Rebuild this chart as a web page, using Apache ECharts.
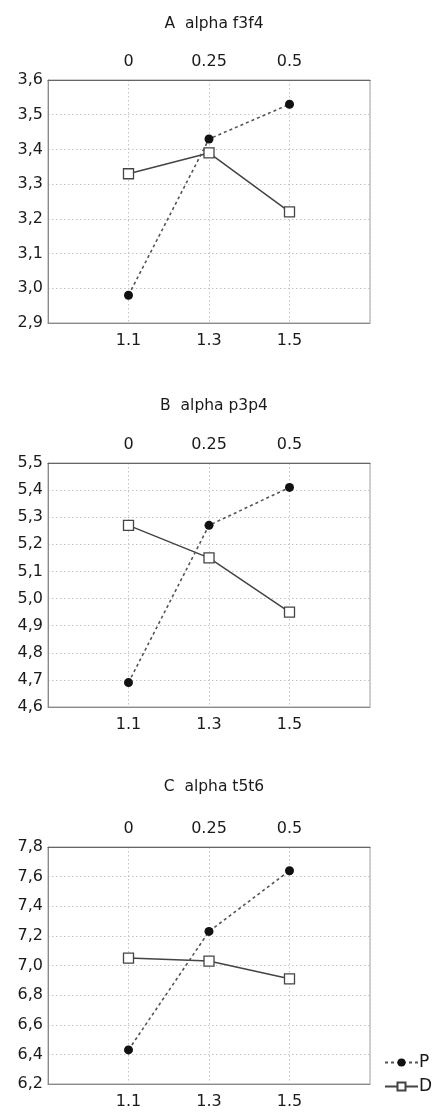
<!DOCTYPE html>
<html>
<head>
<meta charset="utf-8">
<script src="https://cdn.jsdelivr.net/npm/echarts@6/dist/echarts.min.js"></script>
<style>
html,body{margin:0;padding:0;background:#fff;}
#chart{width:436px;height:1120px;}
</style>
</head>
<body>
<div id="chart"></div>
<script>
// ---- data ----
const xValues = [1.1, 1.3, 1.5];
const topTicks = [0, 0.25, 0.5];
const titles = ['A  alpha f3f4', 'B  alpha p3p4', 'C  alpha t5t6'];
const seriesNames = ['P', 'D'];
const pA = [2.98, 3.43, 3.53];
const dA = [3.33, 3.39, 3.22];
const pB = [4.69, 5.27, 5.41];
const dB = [5.27, 5.15, 4.95];
const pC = [6.43, 7.23, 7.64];
const dC = [7.05, 7.03, 6.91];
const yMins = [2.9, 4.6, 6.2];
const yMaxs = [3.6, 5.5, 7.8];
const yIntervals = [0.1, 0.1, 0.2];

const panels = [[pA, dA], [pB, dB], [pC, dC]];

// ---- layout ----
const gridTops = [80, 463, 847];
const gridHeights = [243, 244, 237];
const titleTops = [11, 393, 774];
const FONT = 'DejaVu Sans';
const TXT = '#1a1a1a';

const chart = echarts.init(document.getElementById('chart'), null, {renderer: 'canvas'});

const grid = [], xAxis = [], yAxis = [], series = [], title = [];
panels.forEach((pd, i) => {
  title.push({
    text: titles[i], left: 209, top: titleTops[i], textAlign: 'center',
    textStyle: {fontFamily: FONT, fontSize: 15.5, fontWeight: 'normal', color: TXT}
  });
  grid.push({left: 48, right: 66, top: gridTops[i], height: gridHeights[i],
    show: true, borderColor: '#a0a0a0', borderWidth: 1, backgroundColor: 'transparent'});
  // bottom axis
  xAxis.push({
    type: 'value', gridIndex: i, position: 'bottom',
    min: 0.9, max: 1.7, interval: 0.2,
    axisLine: {show: true, onZero: false, lineStyle: {color: '#8a8a8a', width: 1}},
    axisTick: {show: false},
    axisLabel: {
      margin: 10, fontFamily: FONT, fontSize: 16, color: TXT,
      formatter: v => {
        const m = xValues.find(x => Math.abs(x - v) < 1e-6);
        return m === undefined ? '' : m.toFixed(1);
      }
    },
    splitLine: {show: true, lineStyle: {type: [1.5, 2.5], color: '#c4c4c4', width: 1}}
  });
  // top axis
  xAxis.push({
    type: 'value', gridIndex: i, position: 'top',
    min: -0.25, max: 0.75, interval: 0.25,
    axisLine: {show: true, onZero: false, lineStyle: {color: '#666', width: 1.2}},
    axisTick: {show: false},
    axisLabel: {
      margin: 10, fontFamily: FONT, fontSize: 16, color: TXT,
      formatter: v => {
        const m = topTicks.find(x => Math.abs(x - v) < 1e-6);
        return m === undefined ? '' : String(m);
      }
    },
    splitLine: {show: false}
  });
  yAxis.push({
    type: 'value', gridIndex: i,
    min: yMins[i], max: yMaxs[i], interval: yIntervals[i],
    axisLine: {show: true, onZero: false, lineStyle: {color: '#8a8a8a', width: 1}},
    axisTick: {show: false},
    axisLabel: {
      margin: 5, fontFamily: FONT, fontSize: 16, color: TXT,
      formatter: v => v.toFixed(1).replace('.', ',')
    },
    splitLine: {show: true, lineStyle: {type: [1.5, 2.5], color: '#c4c4c4', width: 1}}
  });
  series.push({
    name: seriesNames[0], type: 'line', xAxisIndex: 2 * i, yAxisIndex: i,
    data: xValues.map((x, k) => [x, pd[0][k]]),
    symbol: 'circle', symbolSize: 9,
    itemStyle: {color: '#111', borderColor: '#111', borderWidth: 0},
    lineStyle: {color: '#555', width: 1.6, type: [3, 3]},
    z: 3
  });
  series.push({
    name: seriesNames[1], type: 'line', xAxisIndex: 2 * i, yAxisIndex: i,
    data: xValues.map((x, k) => [x, pd[1][k]]),
    symbol: 'rect', symbolSize: 10,
    itemStyle: {color: '#fff', borderColor: '#444', borderWidth: 1.3},
    lineStyle: {color: '#444', width: 1.5, type: 'solid'},
    z: 2
  });
});

chart.setOption({
  backgroundColor: '#fff',
  animation: false,
  title,
  grid, xAxis, yAxis, series,
  legend: {
    data: seriesNames,
    orient: 'vertical', left: 379, top: 1049,
    itemWidth: 33, itemHeight: 10, itemGap: 7,
    textStyle: {fontFamily: FONT, fontSize: 17, color: TXT, padding: [0, 0, 0, -4]},
    selectedMode: false
  }
});
</script>
</body>
</html>
